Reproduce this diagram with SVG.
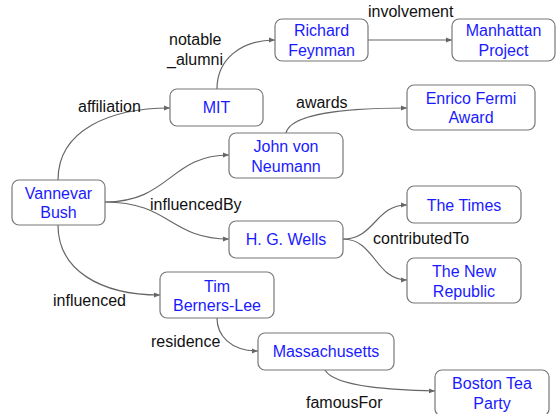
<svg xmlns="http://www.w3.org/2000/svg" width="556" height="414" viewBox="0 0 556 414">
<defs>
<marker id="arr" viewBox="0 0 10 10" refX="10" refY="5" markerWidth="6" markerHeight="6" markerUnits="userSpaceOnUse" orient="auto">
<path d="M0,1 L10,5 L0,9 z" fill="#666"/>
</marker>
<style>
.box{fill:#fff;stroke:#777;stroke-width:1.2}
.nt{font-family:"Liberation Sans",Arial,sans-serif;font-size:16px;fill:#1a1aff;text-anchor:middle}
.lb{font-family:"Liberation Sans",Arial,sans-serif;font-size:16px;fill:#111}
.e{fill:none;stroke:#666;stroke-width:1.2;marker-end:url(#arr)}
</style>
</defs>
<rect width="556" height="414" fill="#fff"/>
<g id="connectors">
<path class="e" d="M58,180 C58,130 110,108 170,108"/>
<path class="e" d="M217,89 C217,60 240,40 275,40"/>
<path class="e" d="M368,40 L452,40"/>
<path class="e" d="M105,202 C170,202 170,155 229,155"/>
<path class="e" d="M105,202 C170,202 170,239 229,239"/>
<path class="e" d="M286,133 C290,115 340,108 407,108"/>
<path class="e" d="M343,239 C375,239 375,205 407,205"/>
<path class="e" d="M343,239 C375,239 375,280 407,280"/>
<path class="e" d="M58,225 C58,270 100,295 160,295"/>
<path class="e" d="M217,318 C217,335 230,351 258,351"/>
<path class="e" d="M325,370 C335,388 400,390 435,391"/>
<text class="lb" x="78" y="112">affiliation</text>
<text class="lb" x="169" y="45">notable</text>
<text class="lb" x="167" y="65">_alumni</text>
<text class="lb" x="368" y="17">involvement</text>
<text class="lb" x="150" y="210">influencedBy</text>
<text class="lb" x="296" y="108">awards</text>
<text class="lb" x="373" y="244">contributedTo</text>
<text class="lb" x="53" y="306">influenced</text>
<text class="lb" x="151" y="347">residence</text>
<text class="lb" x="306" y="408">famousFor</text>
</g>
<g id="bush"><rect class="box" x="12" y="180" width="93" height="45" rx="7"/><text class="nt" x="58.5" y="199">Vannevar</text><text class="nt" x="58.5" y="218">Bush</text></g>
<g id="mit"><rect class="box" x="170" y="89" width="93" height="37" rx="7"/><text class="nt" x="216.5" y="113">MIT</text></g>
<g id="feynman"><rect class="box" x="275" y="19" width="93" height="42" rx="7"/><text class="nt" x="321.5" y="36">Richard</text><text class="nt" x="321.5" y="56">Feynman</text></g>
<g id="manhattan"><rect class="box" x="452" y="19" width="103" height="42" rx="7"/><text class="nt" x="503.5" y="36">Manhattan</text><text class="nt" x="503.5" y="56">Project</text></g>
<g id="fermi"><rect class="box" x="407" y="85" width="128" height="45" rx="7"/><text class="nt" x="471" y="104">Enrico Fermi</text><text class="nt" x="471" y="123">Award</text></g>
<g id="neumann"><rect class="box" x="229" y="133" width="114" height="45" rx="7"/><text class="nt" x="286" y="152">John von</text><text class="nt" x="286" y="172">Neumann</text></g>
<g id="wells"><rect class="box" x="229" y="221" width="114" height="37" rx="7"/><text class="nt" x="286" y="245">H. G. Wells</text></g>
<g id="times"><rect class="box" x="407" y="186" width="114" height="37" rx="7"/><text class="nt" x="464" y="211">The Times</text></g>
<g id="newrepublic"><rect class="box" x="407" y="258" width="114" height="45" rx="7"/><text class="nt" x="464" y="277">The New</text><text class="nt" x="464" y="297">Republic</text></g>
<g id="berners"><rect class="box" x="160" y="272" width="114" height="46" rx="7"/><text class="nt" x="217" y="292">Tim</text><text class="nt" x="217" y="311">Berners-Lee</text></g>
<g id="mass"><rect class="box" x="258" y="333" width="136" height="37" rx="7"/><text class="nt" x="326" y="357">Massachusetts</text></g>
<g id="boston"><rect class="box" x="435" y="370" width="114" height="46" rx="7"/><text class="nt" x="492" y="389">Boston Tea</text><text class="nt" x="492" y="409">Party</text></g>
</svg>
